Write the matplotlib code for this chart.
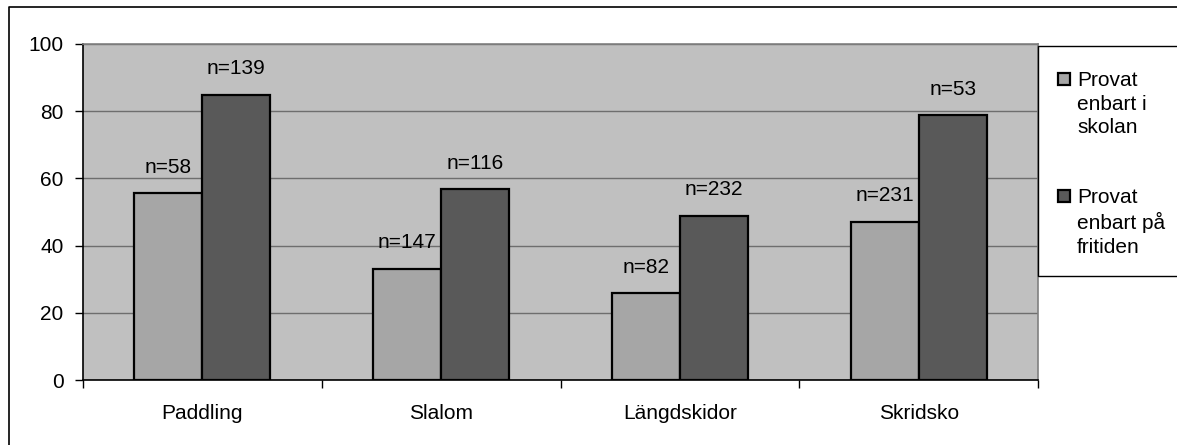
import matplotlib

matplotlib.use("Agg")
import matplotlib.pyplot as plt
from matplotlib.lines import Line2D
from matplotlib.patches import Rectangle
import numpy as np

# data
categories = ["Paddling", "Slalom", "Längdskidor", "Skridsko"]
series_names = ["Provat\nenbart i\nskolan", "Provat\nenbart på\nfritiden"]
school = [55.6, 33.0, 25.8, 47.1]
freetime = [84.8, 56.7, 48.8, 78.8]
n_school = ["n=58", "n=147", "n=82", "n=231"]
n_freetime = ["n=139", "n=116", "n=232", "n=53"]
yticks = [0, 20, 40, 60, 80, 100]

W, H = 1177, 445
plt.rcParams["font.family"] = ["Liberation Sans", "DejaVu Sans"]
FS = 15
colors = ["#a6a6a6", "#595959"]

fig = plt.figure(figsize=(W / 100, H / 100), dpi=100)
fig.patch.set_facecolor("white")

# outer chart border (top and left only, the rest is cut off)
fig.add_artist(Line2D([8.5 / W, 8.5 / W, 1.0], [0.0, 1 - 6.5 / H, 1 - 6.5 / H],
                      color="black", lw=1.2, transform=fig.transFigure))

ax = fig.add_axes([83 / W, 1 - 380 / H, (1038 - 83) / W, (380 - 44) / H])
ax.set_facecolor("#c0c0c0")

x = np.arange(len(categories))
bw = 0.285
b1 = ax.bar(x - bw / 2, school, width=bw, color=colors[0], edgecolor="black", lw=1.6, zorder=3)
b2 = ax.bar(x + bw / 2, freetime, width=bw, color=colors[1], edgecolor="black", lw=1.6, zorder=3)

for bars, labels in ((b1, n_school), (b2, n_freetime)):
    for rect, lab in zip(bars, labels):
        ax.annotate(lab, (rect.get_x() + rect.get_width() / 2, rect.get_height()),
                    xytext=(0, 12), textcoords="offset points",
                    ha="center", va="bottom", fontsize=FS)

ax.set_xlim(-0.5, len(categories) - 0.5)
ax.set_ylim(0, 100)
ax.set_yticks(yticks)
ax.yaxis.grid(True, color="#6e6e6e", lw=1.0, zorder=1)
ax.set_axisbelow(True)

ax.set_xticks(x)
ax.set_xticklabels(categories, fontsize=FS)
ax.set_xticks(np.arange(-0.5, len(categories)), minor=True)
ax.tick_params(axis="x", which="major", length=0, pad=17)
ax.tick_params(axis="x", which="minor", length=6, width=1, direction="out")
ax.tick_params(axis="y", length=6, width=1, direction="out", labelsize=FS, pad=8)

for side in ("top", "right"):
    ax.spines[side].set_color("#808080")
    ax.spines[side].set_linewidth(1.2)
for side in ("left", "bottom"):
    ax.spines[side].set_color("black")
    ax.spines[side].set_linewidth(1.2)

# legend box running off the right edge
fig.add_artist(Rectangle((1037.5 / W, 1 - 276 / H), 0.2, (276 - 46) / H,
                         transform=fig.transFigure, facecolor="white",
                         edgecolor="black", lw=1.0, clip_on=False))
for i, (name, col) in enumerate(zip(series_names, colors)):
    top = 73 + i * 117
    fig.add_artist(Rectangle((1058 / W, 1 - (top + 12) / H), 12 / W, 12 / H,
                             transform=fig.transFigure, facecolor=col,
                             edgecolor="black", lw=1.6))
    fig.text(1077 / W, 1 - (top - 2) / H, name, fontsize=FS, ha="left", va="top",
             linespacing=1.3)

fig.savefig("out.png", dpi=100)
